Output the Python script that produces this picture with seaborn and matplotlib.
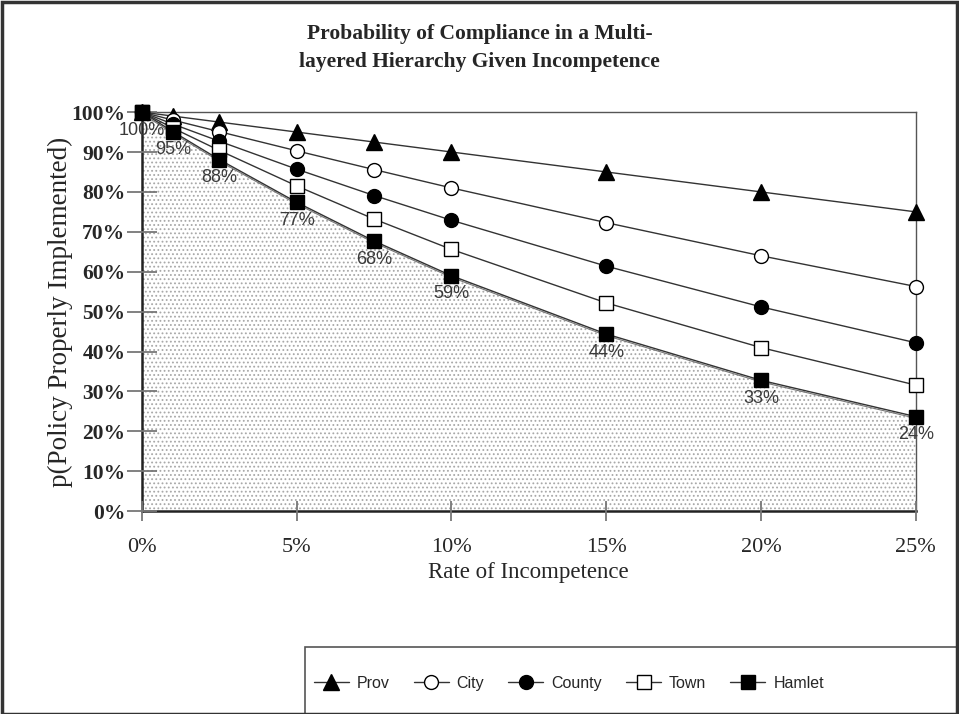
import matplotlib
matplotlib.use("Agg")
import matplotlib.pyplot as plt
import seaborn as sns
import pandas as pd

# rate of incompetence (%)
rate = [0, 1, 2.5, 5, 7.5, 10, 15, 20, 25]

prov = [100, 99, 97.5, 95, 92.5, 90, 85, 80, 75]
city = [100, 98, 95.1, 90.3, 85.6, 81, 72.3, 64, 56.3]
county = [100, 97, 92.7, 85.7, 79.1, 72.9, 61.4, 51.2, 42.2]
town = [100, 96, 90.4, 81.5, 73.2, 65.6, 52.2, 41, 31.6]
hamlet = [100, 95.1, 88.1, 77.4, 67.7, 59, 44.4, 32.8, 23.7]
hamlet_labels = ["100%", "95%", "88%", "77%", "68%", "59%", "44%", "33%", "24%"]

series = {"Prov": prov, "City": city, "County": county, "Town": town, "Hamlet": hamlet}
styles = {
    "Prov": dict(marker="^", mfc="black"),
    "City": dict(marker="o", mfc="white"),
    "County": dict(marker="o", mfc="black"),
    "Town": dict(marker="s", mfc="white"),
    "Hamlet": dict(marker="s", mfc="black"),
}

sns.set_style("white", {"xtick.bottom": True, "ytick.left": True})
plt.rcParams["font.family"] = ["Liberation Serif", "DejaVu Serif"]
plt.rcParams["hatch.color"] = "#a8a8a8"
plt.rcParams["hatch.linewidth"] = 0.8

fig = plt.figure(figsize=(9.59, 7.14), dpi=100)
ax = fig.add_axes([0.148, 0.284, 0.807, 0.559])
ax.set_axisbelow(False)

# dotted area under the hamlet curve
ax.fill_between(rate, hamlet, 0, facecolor="white", edgecolor="#a8a8a8",
                hatch="....", linewidth=0, zorder=1)
ax.plot(rate, [v - 0.4 for v in hamlet], color="#777777", lw=0.8, zorder=2)

for name, vals in series.items():
    df = pd.DataFrame({"rate": rate, "value": vals})
    st = styles[name]
    sns.lineplot(data=df, x="rate", y="value", ax=ax, color="#333333", lw=1.0,
                 marker=st["marker"], markerfacecolor=st["mfc"], markeredgecolor="black",
                 markeredgewidth=1.0, markersize=10 if st["marker"] != "^" else 11,
                 label=name, zorder=3, clip_on=False)

for x, y, t in zip(rate, hamlet, hamlet_labels):
    ax.annotate(t, (x, y), xytext=(0, -7), textcoords="offset points", ha="center",
                va="top", fontsize=13, color="#3a3a3a", family="Liberation Sans", zorder=4)

ax.set_xlim(0, 25)
ax.set_ylim(0, 100)
ax.set_xticks([0, 5, 10, 15, 20, 25])
ax.set_xticklabels(["0%", "5%", "10%", "15%", "20%", "25%"])
ax.set_yticks(range(0, 101, 10))
ax.set_yticklabels([f"{v}%" for v in range(0, 101, 10)])
ax.tick_params(axis="x", which="major", bottom=True, direction="inout", length=14,
               width=1.3, color="#777777", labelsize=16, pad=12)
ax.tick_params(axis="y", which="major", left=True, direction="inout", length=22,
               width=1.3, color="#777777", labelsize=15.5, pad=1)
for lab in ax.get_yticklabels():
    lab.set_fontweight("semibold")
ax.set_xlabel("Rate of Incompetence", fontsize=16.5)
ax.set_ylabel("p(Policy Properly Implemented)", fontsize=19.5)
ax.xaxis.set_label_coords(0.499, -0.128)
ax.yaxis.set_label_coords(-0.089, 0.5)

for side in ["left", "bottom"]:
    ax.spines[side].set_color("#222222")
    ax.spines[side].set_linewidth(1.8)
for side in ["top", "right"]:
    ax.spines[side].set_color("#555555")
    ax.spines[side].set_linewidth(1.0)

fig.text(0.5, 0.933, "Probability of Compliance in a Multi-\nlayered Hierarchy Given Incompetence",
         ha="center", va="center", fontsize=15.5, fontweight="bold", linespacing=1.5)

# legend box running off the right edge
fig.patches.append(plt.Rectangle((0.318, -0.01), 0.70, 0.104, transform=fig.transFigure,
                                 facecolor="white", edgecolor="#555555", linewidth=1.2))
handles, labels = ax.get_legend_handles_labels()
ax.get_legend().remove()
leg = fig.legend(handles, labels, loc="center left", bbox_to_anchor=(0.327, 0.043),
                 ncol=5, frameon=False, handlelength=2.2,
                 columnspacing=1.5, handletextpad=0.5, borderpad=0,
                 prop={"family": "Liberation Sans", "size": 11.5}, borderaxespad=0)

# outer frame
fig.patches.append(plt.Rectangle((0.002, 0.0), 0.996, 0.997, transform=fig.transFigure,
                                 fill=False, edgecolor="#333333", linewidth=2.5))

fig.savefig("out.png", dpi=100)
